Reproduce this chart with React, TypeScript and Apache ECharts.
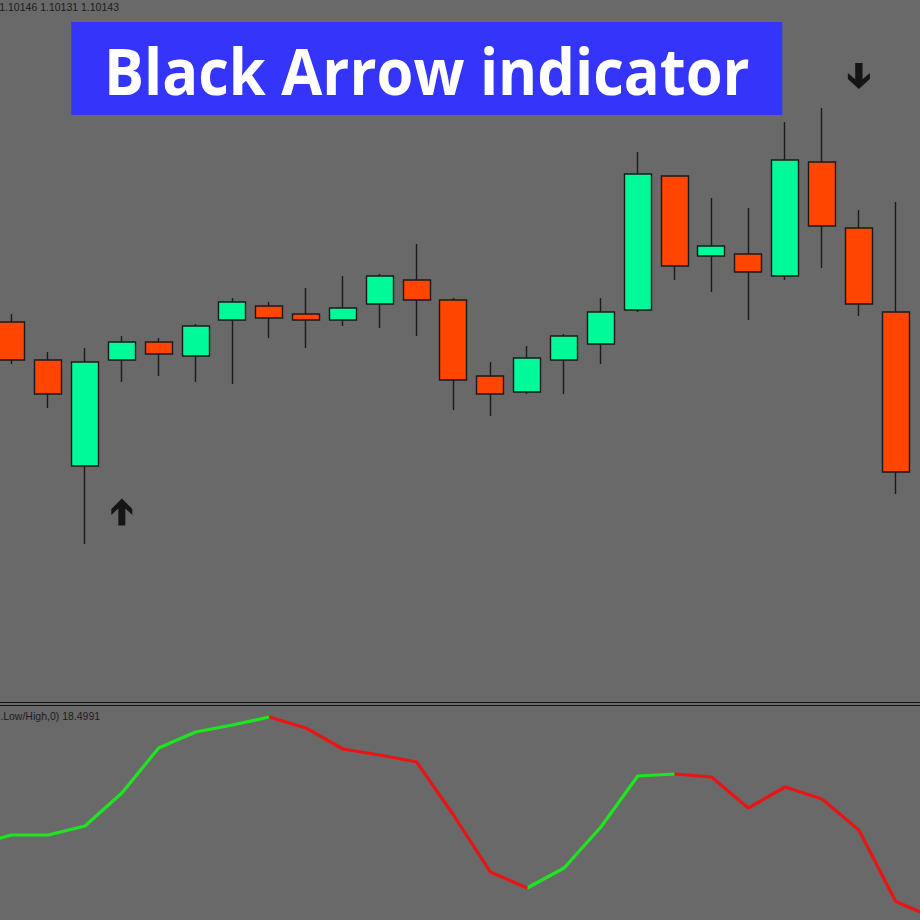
import React, { useEffect, useRef } from "react";
import * as echarts from "echarts";

// bar labels (one before and one after the visible candles)
const categories = [
  "b-1", "b0", "b1", "b2", "b3", "b4", "b5", "b6", "b7", "b8", "b9", "b10", "b11", "b12",
  "b13", "b14", "b15", "b16", "b17", "b18", "b19", "b20", "b21", "b22", "b23", "b24", "b25",
];

// OHLC (index aligned with categories[1..25])
const opens = [1.10239, 1.1022, 1.10167, 1.1022, 1.10229, 1.10222, 1.1024, 1.10247, 1.10243, 1.1024, 1.10248, 1.1026, 1.1025, 1.10212, 1.10204, 1.1022, 1.10228, 1.10245, 1.10312, 1.10272, 1.10273, 1.10262, 1.10319, 1.10286, 1.10244];
const closes = [1.1022, 1.10203, 1.10219, 1.10229, 1.10223, 1.10237, 1.10249, 1.10241, 1.1024, 1.10246, 1.10262, 1.1025, 1.1021, 1.10203, 1.10221, 1.10232, 1.10244, 1.10313, 1.10267, 1.10277, 1.10264, 1.1032, 1.10287, 1.10248, 1.10164];
const lows = [1.10218, 1.10196, 1.10128, 1.10209, 1.10212, 1.10209, 1.10208, 1.10231, 1.10226, 1.10237, 1.10236, 1.10232, 1.10195, 1.10192, 1.10203, 1.10203, 1.10218, 1.10244, 1.1026, 1.10254, 1.1024, 1.1026, 1.10266, 1.10242, 1.10153];
const highs = [1.10243, 1.10224, 1.10226, 1.10232, 1.10231, 1.10238, 1.10251, 1.10249, 1.10256, 1.10262, 1.10263, 1.10278, 1.10251, 1.10219, 1.10227, 1.10233, 1.10251, 1.10324, 1.10312, 1.10301, 1.10296, 1.10339, 1.10346, 1.10295, 1.10299];

const priceLine = 1.10143;
const headerText = "1.10146 1.10131 1.10143";
const titleText = "Black Arrow indicator";

// arrow signals
const buyArrows = [["b3", 1.10144]];
const sellArrows = [["b23", 1.10362]];

// indicator values (categories b-1 .. b25)
const indicatorValues = [75, 85, 85, 94, 127, 172, 188, 195, 203, 192, 171, 165, 158, 105, 48, 32, 52, 93, 144, 146, 143, 112, 133, 121, 90, 18.5, 3];
const indicatorLabel = ".Low/High,0) 18.4991";
// ranges (in bar numbers) where indicator is rising / falling
const upRanges = [[-1, 7], [14, 18]];
const downRanges = [[7, 14], [18, 25]];

const priceMin = 1.1005;
const priceMax = 1.104;
const indMin = 0;
const indMax = 213;

const upArrowPath = "path://M10.5,0 L21,10.5 L21,16.5 L14,10 L14,27 L7,27 L7,10 L0,16.5 L0,10.5 Z";
const downArrowPath = "path://M10.5,27 L21,16.5 L21,10.5 L14,17 L14,0 L7,0 L7,17 L0,10.5 L0,16.5 Z";

// the chart canvas is wider than the window: the first and last bars are cut off
const OFFSET = 44.275;
const CANVAS_W = 994.95;

function inRanges(bar: number, ranges: number[][]) {
  return ranges.some(([a, b]) => bar >= a && bar <= b);
}

export default function App() {
  const ref = useRef<HTMLDivElement>(null);
  useEffect(() => {
    document.body.style.margin = "0";
    document.body.style.overflow = "hidden";
    if (!ref.current) return;
    const chart = echarts.init(ref.current, null, { renderer: "svg" });

    const candleData = categories.map((_, k) => {
      const i = k - 1;
      if (i < 0 || i >= opens.length) return ["-", "-", "-", "-"];
      return [opens[i], closes[i], lows[i], highs[i]];
    });
    const upData = indicatorValues.map((v, k) => (inRanges(k - 1, upRanges) ? v : null));
    const downData = indicatorValues.map((v, k) => (inRanges(k - 1, downRanges) ? v : null));

    const hiddenAxis = {
      axisLine: { show: false },
      axisTick: { show: false },
      axisLabel: { show: false },
      splitLine: { show: false },
    };

    const textFont = "Liberation Sans";

    chart.setOption({
      animation: false,
      backgroundColor: "#696969",
      grid: [
        { left: 0, right: 0, top: 0, height: 700 },
        { left: 0, right: 0, top: 707, height: 213 },
      ],
      xAxis: [
        { type: "category", data: categories, gridIndex: 0, boundaryGap: true, ...hiddenAxis },
        { type: "category", data: categories, gridIndex: 1, boundaryGap: true, ...hiddenAxis },
      ],
      yAxis: [
        { type: "value", gridIndex: 0, min: priceMin, max: priceMax, scale: true, ...hiddenAxis },
        { type: "value", gridIndex: 1, min: indMin, max: indMax, ...hiddenAxis },
      ],
      series: [
        {
          type: "candlestick",
          xAxisIndex: 0,
          yAxisIndex: 0,
          data: candleData,
          barWidth: 27.5,
          itemStyle: {
            color: "#00FA9A",
            color0: "#FF4500",
            borderColor: "#1a1a1a",
            borderColor0: "#1a1a1a",
            borderWidth: 1.4,
          },
          markLine: {
            silent: true,
            symbol: "none",
            label: { show: false },
            lineStyle: { color: "#8e8e8e", width: 1, type: "solid" },
            data: [{ yAxis: priceLine }],
          },
          z: 2,
        },
        {
          type: "scatter",
          xAxisIndex: 0,
          yAxisIndex: 0,
          data: buyArrows,
          symbol: upArrowPath,
          symbolSize: [21, 27],
          itemStyle: { color: "#000000" },
          z: 5,
        },
        {
          type: "scatter",
          xAxisIndex: 0,
          yAxisIndex: 0,
          data: sellArrows,
          symbol: downArrowPath,
          symbolSize: [22, 26],
          itemStyle: { color: "#000000" },
          z: 5,
        },
        {
          type: "line",
          xAxisIndex: 1,
          yAxisIndex: 1,
          data: upData,
          showSymbol: false,
          connectNulls: false,
          lineStyle: { color: "#1ee61e", width: 3.2 },
          itemStyle: { color: "#1ee61e" },
        },
        {
          type: "line",
          xAxisIndex: 1,
          yAxisIndex: 1,
          data: downData,
          showSymbol: false,
          connectNulls: false,
          lineStyle: { color: "#ea1414", width: 3.2 },
          itemStyle: { color: "#ea1414" },
        },
      ],
      graphic: [
        {
          type: "rect",
          shape: { x: 71 + OFFSET, y: 22, width: 711, height: 93 },
          style: { fill: "#3434FA" },
          z: 10,
        },
        {
          type: "text",
          x: 426.5 + OFFSET,
          y: 69,
          scaleX: 0.917,
          style: {
            text: titleText,
            fill: "#ffffff",
            font: "bold 65px 'Open Sans'",
            align: "center",
            verticalAlign: "middle",
          },
          z: 11,
        },
        {
          type: "text",
          x: -1 + OFFSET,
          y: 7,
          style: {
            text: headerText,
            fill: "#1c1c1c",
            font: `10.5px '${textFont}'`,
            align: "left",
            verticalAlign: "middle",
          },
          z: 11,
        },
        {
          type: "line",
          shape: { x1: 0, y1: 702.5, x2: CANVAS_W, y2: 702.5 },
          style: { stroke: "#151515", lineWidth: 1.2 },
          z: 11,
        },
        {
          type: "line",
          shape: { x1: 0, y1: 705.5, x2: CANVAS_W, y2: 705.5 },
          style: { stroke: "#151515", lineWidth: 1.2 },
          z: 11,
        },
        {
          type: "text",
          x: 0 + OFFSET,
          y: 716,
          style: {
            text: indicatorLabel,
            fill: "#1c1c1c",
            font: `10.5px '${textFont}'`,
            align: "left",
            verticalAlign: "middle",
          },
          z: 11,
        },
      ],
    });
    return () => chart.dispose();
  }, []);
  return (
    <div style={{ position: "relative", width: 920, height: 920, overflow: "hidden", background: "#696969" }}>
      <div
        ref={ref}
        style={{ position: "absolute", left: -OFFSET, top: 0, width: CANVAS_W, height: 920 }}
      />
    </div>
  );
}
